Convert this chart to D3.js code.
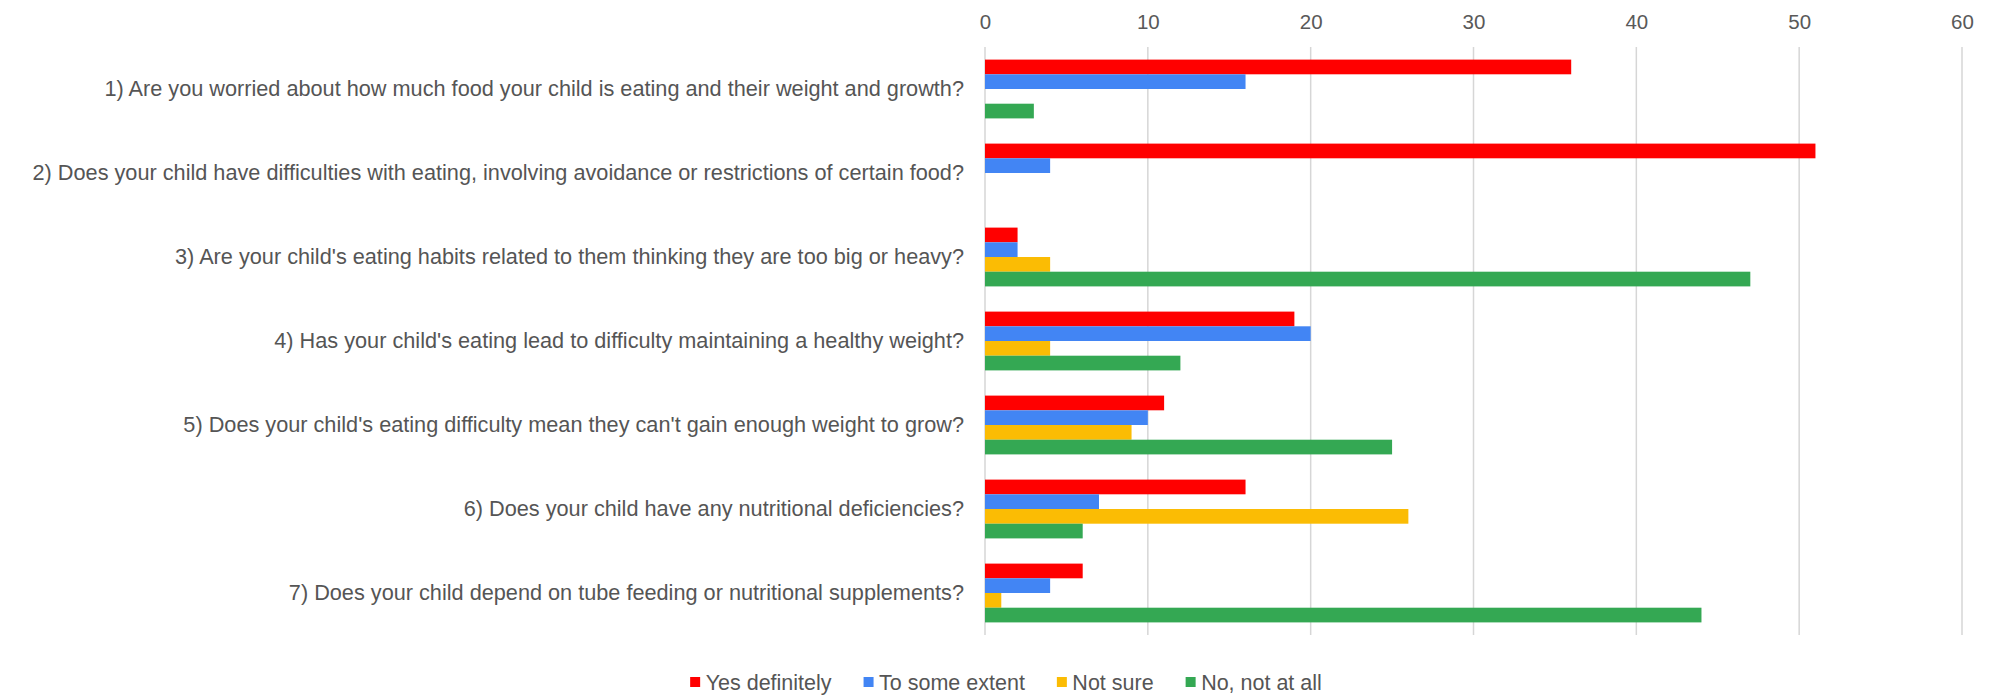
<!DOCTYPE html>
<html>
<head>
<meta charset="utf-8">
<script src="https://cdn.jsdelivr.net/npm/d3@7"></script>
<style>
  html, body { margin: 0; padding: 0; background: #fff; }
  svg { display: block; font-family: "Liberation Sans", Arial, sans-serif; }
</style>
</head>
<body>
<svg id="chart" width="2004" height="697"></svg>
<script>
// Survey questions (one row each)
const questions = [
  "1) Are you worried about how much food your child is eating and their weight and growth?",
  "2) Does your child have difficulties with eating, involving avoidance or restrictions of certain food?",
  "3) Are your child's eating habits related to them thinking they are too big or heavy?",
  "4) Has your child's eating lead to difficulty maintaining a healthy weight?",
  "5) Does your child's eating difficulty mean they can't gain enough weight to grow?",
  "6) Does your child have any nutritional deficiencies?",
  "7) Does your child depend on tube feeding or nutritional supplements?"
];

// Answer options (series)
const answers = ["Yes definitely", "To some extent", "Not sure", "No, not at all"];

// Number of responses per question, one array per answer option
const yesDefinitely = [36, 51, 2, 19, 11, 16, 6];
const toSomeExtent  = [16, 4, 2, 20, 10, 7, 4];
const notSure       = [0, 0, 4, 4, 9, 26, 1];
const noNotAtAll    = [3, 0, 47, 12, 25, 6, 44];

const xTicks = [0, 10, 20, 30, 40, 50, 60];

const colors = ["#ff0000", "#4285f4", "#fbbc04", "#34a853"];

const seriesValues = [yesDefinitely, toSomeExtent, notSure, noNotAtAll];
const rows = questions.map((q, i) => ({
  question: q,
  values: answers.map((a, s) => ({ answer: a, value: seriesValues[s][i] }))
}));

const svg = d3.select("#chart");
const plot = { left: 985, right: 1962, top: 47, bottom: 635 };

const x = d3.scaleLinear().domain([0, 60]).range([plot.left, plot.right]);
const y = d3.scaleBand().domain(questions).range([plot.top, plot.bottom])
  .paddingInner(0.3).paddingOuter(0.15);
const ySub = d3.scaleBand().domain(answers).range([0, y.bandwidth()]);
const color = d3.scaleOrdinal().domain(answers).range(colors);

// Vertical gridlines
svg.append("g")
  .selectAll("line")
  .data(xTicks)
  .join("line")
  .attr("x1", d => x(d)).attr("x2", d => x(d))
  .attr("y1", plot.top).attr("y2", plot.bottom)
  .attr("stroke", "#d6d6d6")
  .attr("stroke-width", 1.5);

// Top value axis
const xAxis = svg.append("g")
  .attr("transform", `translate(0,${plot.top})`)
  .call(d3.axisTop(x).tickValues(xTicks).tickSize(0).tickPadding(18));
xAxis.select(".domain").remove();
xAxis.selectAll("text")
  .attr("font-size", 20.5)
  .attr("font-family", "'Liberation Sans', Arial, sans-serif")
  .attr("fill", "#595959");

// Question labels
const yAxis = svg.append("g")
  .attr("transform", `translate(${plot.left},0)`)
  .call(d3.axisLeft(y).tickSize(0).tickPadding(21));
yAxis.select(".domain").remove();
yAxis.selectAll("text")
  .attr("font-size", 21.7)
  .attr("font-family", "'Liberation Sans', Arial, sans-serif")
  .attr("fill", "#555555");

// Grouped bars
const groups = svg.append("g")
  .selectAll("g")
  .data(rows)
  .join("g")
  .attr("transform", d => `translate(0,${y(d.question)})`);

groups.selectAll("rect")
  .data(d => d.values)
  .join("rect")
  .attr("x", x(0))
  .attr("y", d => ySub(d.answer))
  .attr("width", d => x(d.value) - x(0))
  .attr("height", ySub.bandwidth())
  .attr("fill", d => color(d.answer));

// Legend, centred under the chart
const legend = svg.append("g").attr("transform", "translate(0,682)");
const items = legend.selectAll("g")
  .data(answers)
  .join("g");
items.append("rect")
  .attr("width", 10).attr("height", 10)
  .attr("y", -5)
  .attr("fill", d => color(d));
items.append("text")
  .attr("x", 15.5)
  .attr("dy", "0.35em")
  .attr("font-size", 21.5)
  .attr("fill", "#555555")
  .text(d => d);

const gap = 32;
const widths = [];
items.each(function () {
  widths.push(15.5 + d3.select(this).select("text").node().getComputedTextLength());
});
const total = d3.sum(widths) + gap * (widths.length - 1);
let cursor = 1006 - total / 2;
items.attr("transform", (d, i) => {
  const t = `translate(${cursor},0)`;
  cursor += widths[i] + gap;
  return t;
});
</script>
</body>
</html>
